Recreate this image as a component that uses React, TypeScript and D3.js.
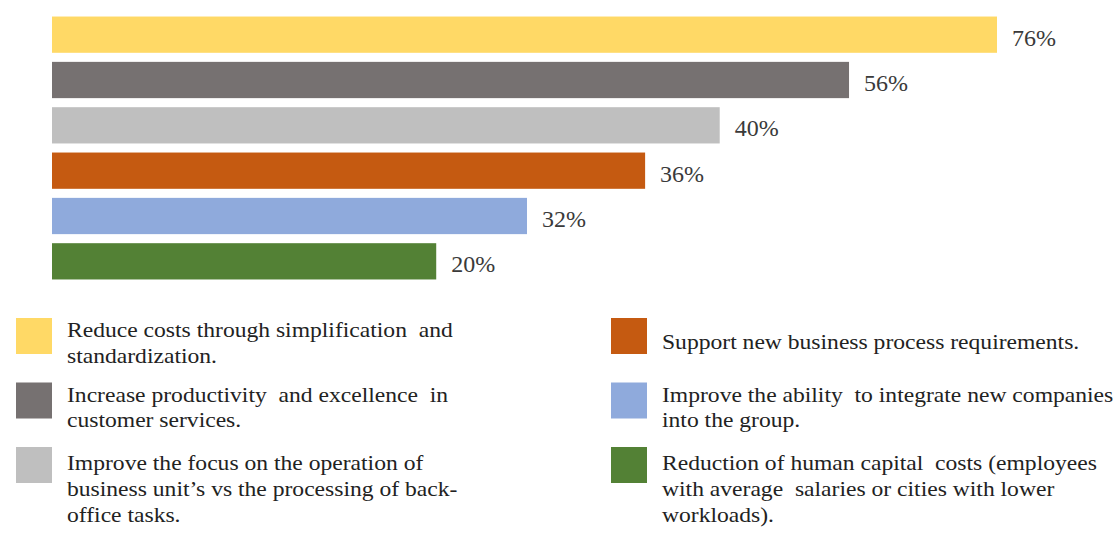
import React from "react";
import * as d3 from "d3";

// chart data
const categories = [
  "Reduce costs through simplification and standardization.",
  "Increase productivity and excellence in customer services.",
  "Improve the focus on the operation of business unit’s vs the processing of back-office tasks.",
  "Support new business process requirements.",
  "Improve the ability to integrate new companies into the group.",
  "Reduction of human capital costs (employees with average salaries or cities with lower workloads).",
];

const values = [76, 56, 40, 36, 32, 20];

// bar extents as drawn in the picture (same % units, bars are not to scale with the labels)
const barLengths = [76, 64.1, 53.7, 47.7, 38.2, 30.9];

const colors = ["#FFD966", "#767171", "#BFBFBF", "#C55A11", "#8FAADC", "#538135"];

// legend text wrapped the way the picture wraps it
const legendLines = [
  ["Reduce costs through simplification  and", "standardization."],
  ["Increase productivity  and excellence  in", "customer services."],
  ["Improve the focus on the operation of", "business unit’s vs the processing of back-", "office tasks."],
  ["Support new business process requirements."],
  ["Improve the ability  to integrate new companies", "into the group."],
  ["Reduction of human capital  costs (employees", "with average  salaries or cities with lower", "workloads)."],
];

const serif = "Liberation Serif";

export default function App() {
  const width = 1115;
  const height = 533;

  const x = d3
    .scaleLinear()
    .domain([0, d3.max(barLengths) as number])
    .range([52, 997]);

  const y = d3
    .scaleBand<string>()
    .domain(categories)
    .range([12, 284])
    .paddingInner(0.2)
    .paddingOuter(0.1);

  // legend: two columns of three rows
  const legendRow = d3.scalePoint<number>().domain([0, 1, 2]).range([318, 447]);
  const legendCol = [16, 611];
  const swatch = 35;
  const lineHeight = 26;
  // first baseline below the swatch top, by number of lines
  const firstOffset = [0, 31, 19, 23];

  return (
    <div style={{ position: "absolute", left: 0, top: 0 }}>
      <svg width={width} height={height} style={{ display: "block", background: "#fff" }}>
        {categories.map((c, i) => {
          const y0 = y(c) as number;
          return (
            <g key={c}>
              <rect x={x(0)} y={y0} width={x(barLengths[i]) - x(0)} height={y.bandwidth()} fill={colors[i]} />
              <text
                x={x(barLengths[i]) + 15}
                y={y0 + y.bandwidth() / 2 + 11}
                style={{ fontFamily: serif, fontSize: 24 }}
                fill="#3a3a3a"
              >
                {`${values[i]}%`}
              </text>
            </g>
          );
        })}

        {categories.map((c, i) => {
          const col = Math.floor(i / 3);
          const top = legendRow(i % 3) as number;
          const lines = legendLines[i];
          const firstBase = top + firstOffset[lines.length];
          return (
            <g key={"lg" + i}>
              <rect x={legendCol[col]} y={top} width={swatch + 1} height={swatch + 1} fill={colors[i]} />
              <g transform={`translate(${legendCol[col] + 51},${firstBase}) scale(1.18,1)`}>
                <text fill="#222" style={{ whiteSpace: "pre", fontFamily: serif, fontSize: 20 }}>
                  {lines.map((l, j) => (
                    <tspan key={j} x={0} y={j * lineHeight}>
                      {l}
                    </tspan>
                  ))}
                </text>
              </g>
            </g>
          );
        })}
      </svg>
    </div>
  );
}
